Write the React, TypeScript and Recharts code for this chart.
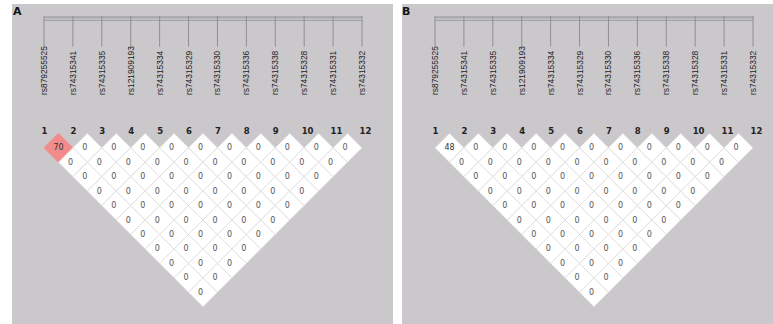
import React from "react";
import { ScatterChart, Scatter, XAxis, YAxis } from "recharts";

// SNP markers along the top
const snpNames = [
  "rs879255525",
  "rs74315341",
  "rs74315335",
  "rs121909193",
  "rs74315334",
  "rs74315329",
  "rs74315330",
  "rs74315336",
  "rs74315338",
  "rs74315328",
  "rs74315331",
  "rs74315332",
];
const snpIdx = snpNames.map((_, i) => i + 1);

// pairwise LD values, row i = SNP i against SNP i+1 .. 12
const ldA = [
  [70, 0, 0, 0, 0, 0, 0, 0, 0, 0, 0],
  [0, 0, 0, 0, 0, 0, 0, 0, 0, 0],
  [0, 0, 0, 0, 0, 0, 0, 0, 0],
  [0, 0, 0, 0, 0, 0, 0, 0],
  [0, 0, 0, 0, 0, 0, 0],
  [0, 0, 0, 0, 0, 0],
  [0, 0, 0, 0, 0],
  [0, 0, 0, 0],
  [0, 0, 0],
  [0, 0],
  [0],
];
const ldB = [
  [48, 0, 0, 0, 0, 0, 0, 0, 0, 0, 0],
  [0, 0, 0, 0, 0, 0, 0, 0, 0, 0],
  [0, 0, 0, 0, 0, 0, 0, 0, 0],
  [0, 0, 0, 0, 0, 0, 0, 0],
  [0, 0, 0, 0, 0, 0, 0],
  [0, 0, 0, 0, 0, 0],
  [0, 0, 0, 0, 0],
  [0, 0, 0, 0],
  [0, 0, 0],
  [0, 0],
  [0],
];
// pairs drawn in the strong-LD colour
const strongA = ["1-2"];
const strongB: string[] = [];

const W = 381;
const H = 320;
const ML = 32;
const MR = 31;
const STEP = (W - ML - MR) / (snpNames.length - 1);
const HALF = STEP / 2;
const PLOT_TOP = 129.3;
const AXIS_H = 10;
const PLOT_BOTTOM = PLOT_TOP + 12 * HALF;

const BG = "#cac8cb";
const FONT = "'DejaVu Sans', sans-serif";

type Cell = { x: number; d: number; v: number; hot: boolean };

const toCells = (rows: number[][], strong: string[]): Cell[] => {
  const out: Cell[] = [];
  rows.forEach((row, i) => {
    row.forEach((v, k) => {
      const a = i + 1;
      const b = i + k + 2;
      out.push({ x: (a + b) / 2, d: b - a, v, hot: strong.includes(`${a}-${b}`) });
    });
  });
  return out;
};

const Diamond = (props: any) => {
  const { cx, cy, payload } = props;
  const pts = `${cx},${cy - HALF} ${cx + HALF},${cy} ${cx},${cy + HALF} ${cx - HALF},${cy}`;
  return (
    <g>
      <polygon
        points={pts}
        fill={payload.hot ? "#f28c8c" : "#ffffff"}
        stroke={payload.hot ? "#f28c8c" : "#dcdcdc"}
        strokeWidth={0.8}
      />
      <text
        x={cx - 5}
        y={cy}
        dominantBaseline="central"
        fontFamily={FONT}
        fontSize={8}
        fill={payload.v > 0 ? "#333" : "#555"}
      >
        {payload.v}
      </text>
    </g>
  );
};

const SnpTick = (props: any) => {
  const { x, payload, index } = props;
  const name = snpNames[payload.value - 1];
  return (
    <g>
      {index < snpNames.length - 1 && (
        <g>
          <rect x={x} y={13} width={STEP} height={3.5} fill="#bfbdc0" />
          <line x1={x} x2={x + STEP} y1={13} y2={13} stroke="#929292" strokeWidth={1} />
          <line x1={x} x2={x + STEP} y1={16.5} y2={16.5} stroke="#a4a4a4" strokeWidth={1} />
        </g>
      )}
      <line x1={x} x2={x} y1={12} y2={42.7} stroke="#8f8f8f" strokeWidth={1} />
      <text
        x={x}
        y={91}
        transform={`rotate(-90, ${x}, 91)`}
        textAnchor="start"
        dominantBaseline="central"
        fontFamily="'Liberation Sans', sans-serif"
        fontSize={8.4}
        fill="#1e1e1e"
      >
        {name}
      </text>
      <text
        x={x - 2.5}
        y={PLOT_TOP + 1}
        fontFamily={FONT}
        fontWeight="bold"
        fontSize={8.5}
        fill="#222"
      >
        {payload.value}
      </text>
    </g>
  );
};

const LDPanel = ({ cells }: { cells: Cell[] }) => (
  <ScatterChart
    width={W}
    height={H}
    margin={{ top: PLOT_TOP - AXIS_H, right: MR, bottom: H - PLOT_BOTTOM, left: ML }}
  >
    <XAxis
      type="number"
      dataKey="x"
      orientation="top"
      domain={[1, 12]}
      ticks={snpIdx}
      interval={0}
      height={AXIS_H}
      axisLine={false}
      tickLine={false}
      tick={<SnpTick />}
      allowDataOverflow
    />
    <YAxis type="number" dataKey="d" domain={[0, 12]} reversed hide width={0} />
    <Scatter data={cells} shape={<Diamond />} isAnimationActive={false} />
  </ScatterChart>
);

export default function App() {
  const cellsA = toCells(ldA, strongA);
  const cellsB = toCells(ldB, strongB);
  const label: React.CSSProperties = {
    position: "absolute",
    top: 6,
    fontFamily: FONT,
    fontWeight: "bold",
    fontSize: 11,
    lineHeight: "12px",
    color: "#111",
  };
  return (
    <div
      style={{
        position: "absolute",
        left: 0,
        top: 0,
        width: 773,
        height: 324,
        background: "#fff",
        overflow: "hidden",
      }}
    >
      <div style={{ position: "absolute", left: 12, top: 4, width: 381, height: 320, background: BG }} />
      <div style={{ position: "absolute", left: 402, top: 4, width: 371, height: 320, background: BG }} />
      <div style={{ position: "absolute", left: 12, top: 4 }}>
        <LDPanel cells={cellsA} />
      </div>
      <div style={{ position: "absolute", left: 403.4, top: 4 }}>
        <LDPanel cells={cellsB} />
      </div>
      <span style={{ ...label, left: 13 }}>A</span>
      <span style={{ ...label, left: 402 }}>B</span>
    </div>
  );
}
